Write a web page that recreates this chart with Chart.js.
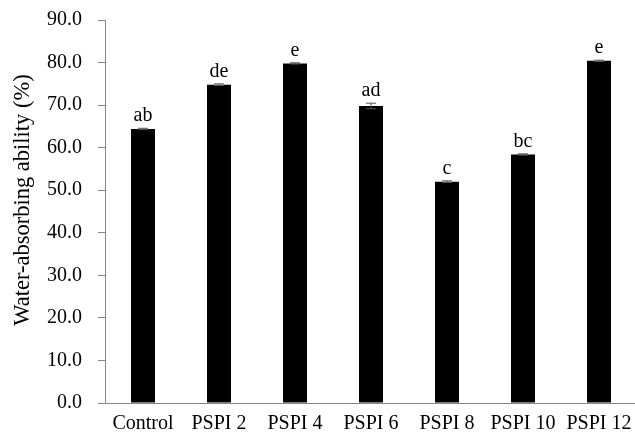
<!DOCTYPE html>
<html>
<head>
<meta charset="utf-8">
<script src="https://cdn.jsdelivr.net/npm/chart.js@4"></script>
<style>
  html, body { margin: 0; padding: 0; background: #fff; overflow: hidden; }
  #wrap { width: 637px; height: 437px; }
</style>
</head>
<body>
<div id="wrap"><canvas id="chart"></canvas></div>
<script>
// Chart data
const categories = ["Control", "PSPI 2", "PSPI 4", "PSPI 6", "PSPI 8", "PSPI 10", "PSPI 12"];
const absorbValues = [64.4, 74.8, 79.8, 69.8, 52.0, 58.4, 80.4];
const errorValues = [0.15, 0.2, 0.15, 0.65, 0.2, 0.15, 0.15];
const groupLetters = ["ab", "de", "e", "ad", "c", "bc", "e"];
const yTitle = "Water-absorbing ability (%)";

const serif = "'Liberation Serif', 'Times New Roman', serif";

// draws error bars, significance letters and the y axis title
const errorBarPlugin = {
  id: "errorBars",
  afterDatasetsDraw(chart) {
    const ctx = chart.ctx;
    const yScale = chart.scales.y;
    const meta = chart.getDatasetMeta(0);
    ctx.save();
    meta.data.forEach(function (bar, i) {
      const x = bar.x;
      const top = yScale.getPixelForValue(absorbValues[i] + errorValues[i]);
      const bottom = yScale.getPixelForValue(absorbValues[i] - errorValues[i]);
      ctx.strokeStyle = "#555";
      ctx.lineWidth = 1;
      ctx.beginPath();
      ctx.moveTo(x, top);
      ctx.lineTo(x, bottom);
      ctx.moveTo(x - 5, top);
      ctx.lineTo(x + 5, top);
      ctx.moveTo(x - 5, bottom);
      ctx.lineTo(x + 5, bottom);
      ctx.stroke();

      ctx.fillStyle = "#000";
      ctx.font = "20px " + serif;
      ctx.textAlign = "center";
      ctx.textBaseline = "alphabetic";
      ctx.fillText(groupLetters[i], x, top - 7);
    });

    // y axis title, a bit above the middle of the plot like the original
    ctx.translate(23, 200);
    ctx.rotate(-Math.PI / 2);
    ctx.font = "22.5px " + serif;
    ctx.textAlign = "center";
    ctx.textBaseline = "middle";
    ctx.fillText(yTitle, 0, 0);
    ctx.restore();
  }
};

const ctx = document.getElementById("chart").getContext("2d");

new Chart(ctx, {
  type: "bar",
  data: {
    labels: categories,
    datasets: [
      {
        data: absorbValues,
        backgroundColor: "#000",
        borderWidth: 0,
        barPercentage: 0.316,
        categoryPercentage: 1.0,
      },
    ],
  },
  options: {
    responsive: true,
    maintainAspectRatio: false,
    animation: false,
    layout: {
      padding: { left: 0, right: 0, top: 20, bottom: 0 },
    },
    plugins: {
      legend: { display: false },
      tooltip: { enabled: false },
    },
    scales: {
      x: {
        grid: { display: true, drawOnChartArea: false, tickLength: 0 },
        border: { display: true, color: "#868686", width: 1 },
        ticks: {
          color: "#000",
          padding: 9,
          font: { family: serif, size: 20 },
          maxRotation: 0,
        },
        afterFit(scale) {
          scale.height = 34;
          scale.paddingRight = 0;
          scale.paddingLeft = 0;
        },
      },
      y: {
        min: 0,
        max: 90,
        grid: { display: true, drawOnChartArea: false, tickLength: 7, color: "#868686" },
        border: { display: true, color: "#868686", width: 1 },
        ticks: {
          stepSize: 10,
          color: "#000",
          padding: 16,
          font: { family: serif, size: 20 },
          callback: function (value) {
            return value.toFixed(1);
          },
        },
        afterFit(scale) {
          scale.width = 105;
          scale.paddingTop = 0;
          scale.paddingBottom = 0;
        },
      },
    },
  },
  plugins: [errorBarPlugin],
});
</script>
</body>
</html>
